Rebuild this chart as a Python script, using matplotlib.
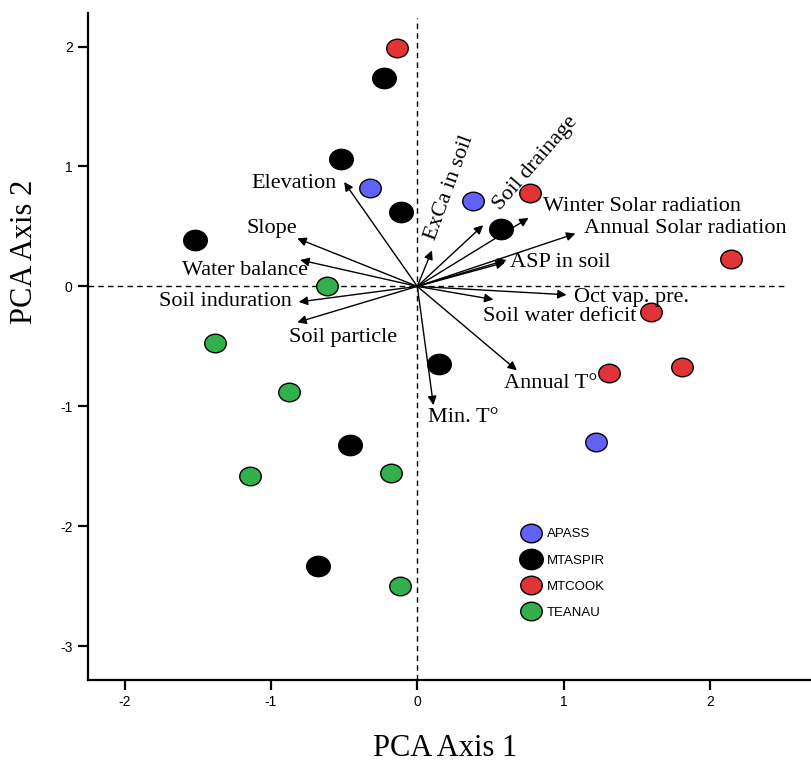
import matplotlib
matplotlib.use("Agg")
import matplotlib.pyplot as plt
from matplotlib.path import Path
from matplotlib.transforms import Affine2D

plt.rcParams['axes.unicode_minus'] = False

# site scores (PCA axis 1, axis 2)
apass_x = [-0.32, 0.38, 1.22]
apass_y = [0.82, 0.71, -1.30]
mtaspir_x = [-0.23, -0.52, -0.11, -1.52, 0.57, 0.15, -0.46, -0.68]
mtaspir_y = [1.74, 1.06, 0.62, 0.39, 0.48, -0.65, -1.32, -2.33]
mtcook_x = [-0.14, 0.77, 2.14, 1.60, 1.31, 1.81]
mtcook_y = [1.99, 0.78, 0.23, -0.21, -0.72, -0.67]
teanau_x = [-0.62, -1.38, -0.88, -1.14, -0.18, -0.12]
teanau_y = [0.00, -0.47, -0.88, -1.58, -1.56, -2.50]

# environmental vectors: tip (x, y)
vec_x = [-0.50, -0.82, -0.80, -0.81, -0.82, 0.10, 0.45, 0.76, 1.08, 0.61, 0.60, 1.02, 0.52, 0.68, 0.11]
vec_y = [0.87, 0.40, 0.22, -0.13, -0.30, 0.30, 0.51, 0.57, 0.44, 0.22, 0.20, -0.07, -0.11, -0.70, -0.99]

# vector labels: text, x, y, horizontal alignment, rotation
lab_text = ["Elevation", "Slope", "Water balance", "Soil induration", "Soil particle",
            "ExCa in soil", "Soil drainage", "Winter Solar radiation",
            "Annual Solar radiation", "ASP in soil", "Oct vap. pre.",
            "Soil water deficit", "Annual T°", "Min. T°"]
lab_x = [-0.55, -0.82, -0.75, -0.86, -0.88, 0.22, 0.81, 0.86, 1.14, 0.63, 1.07, 0.45, 0.59, 0.07]
lab_y = [0.86, 0.48, 0.13, -0.13, -0.43, 0.82, 1.03, 0.67, 0.48, 0.20, -0.09, -0.25, -0.81, -1.09]
lab_ha = ["right", "right", "right", "right", "left", "center", "center", "left",
          "left", "left", "left", "left", "left", "left"]
lab_rot = [0, 0, 0, 0, 0, 70, 49, 0, 0, 0, 0, 0, 0, 0]

# ellipse marker (a bit wider than tall)
ellipse = Path.unit_circle().transformed(Affine2D().scale(1.16, 1.0))

fig = plt.figure(figsize=(8.11, 7.62), dpi=100)
ax = fig.add_axes([0.1085, 0.108, 0.8915, 0.875])

serif = "Liberation Serif"

# reference lines
ax.plot([-2.25, 2.52], [0, 0], color="black", lw=1, ls=(0, (4, 3)), zorder=1)
ax.plot([0, 0], [-3.28, 2.24], color="black", lw=1, ls=(0, (4, 3)), zorder=1)

# arrows
for vx, vy in zip(vec_x, vec_y):
    ax.annotate("", xy=(vx, vy), xytext=(0, 0),
                arrowprops=dict(arrowstyle="-|>", color="black", lw=1,
                                mutation_scale=13, shrinkA=0, shrinkB=0),
                zorder=2)

for t, x, y, ha, r in zip(lab_text, lab_x, lab_y, lab_ha, lab_rot):
    ax.text(x, y, t, ha=ha, va="center", rotation=r, fontsize=16,
            family=serif, zorder=4)

# sites
ms = 15.5
ax.plot(apass_x, apass_y, ls="none", marker=ellipse, ms=ms, mfc="#6262F7",
        mec="black", mew=1, label="APASS", zorder=3)
ax.plot(mtaspir_x, mtaspir_y, ls="none", marker=ellipse, ms=ms + 1.5, mfc="black",
        mec="black", mew=1, label="MTASPIR", zorder=3)
ax.plot(mtcook_x, mtcook_y, ls="none", marker=ellipse, ms=ms, mfc="#E23438",
        mec="black", mew=1, label="MTCOOK", zorder=3)
ax.plot(teanau_x, teanau_y, ls="none", marker=ellipse, ms=ms, mfc="#31B04B",
        mec="black", mew=1, label="TEANAU", zorder=3)

leg = ax.legend(loc="upper left", bbox_to_anchor=(0.585, 0.245), frameon=False,
                labelspacing=1.05, handlelength=1.2, handletextpad=0.6,
                prop={"family": "Liberation Sans", "size": 9.5})

ax.set_xlim(-2.25, 2.69)
ax.set_ylim(-3.28, 2.28)
ax.set_xticks([-2, -1, 0, 1, 2])
ax.set_yticks([-3, -2, -1, 0, 1, 2])
for lab in ax.get_xticklabels() + ax.get_yticklabels():
    lab.set_family("Liberation Sans")
ax.tick_params(direction="out", length=7, width=1.6, labelsize=10, pad=4)
for s in ["top", "right"]:
    ax.spines[s].set_visible(False)
for s in ["left", "bottom"]:
    ax.spines[s].set_linewidth(1.6)

fig.text(0.549, 0.018, "PCA Axis 1", ha="center", va="center", fontsize=22, family=serif)
fig.text(0.012, 0.67, "PCA Axis 2", ha="left", va="center", rotation=90,
         fontsize=22, family=serif)

fig.savefig("out.png", dpi=100)
